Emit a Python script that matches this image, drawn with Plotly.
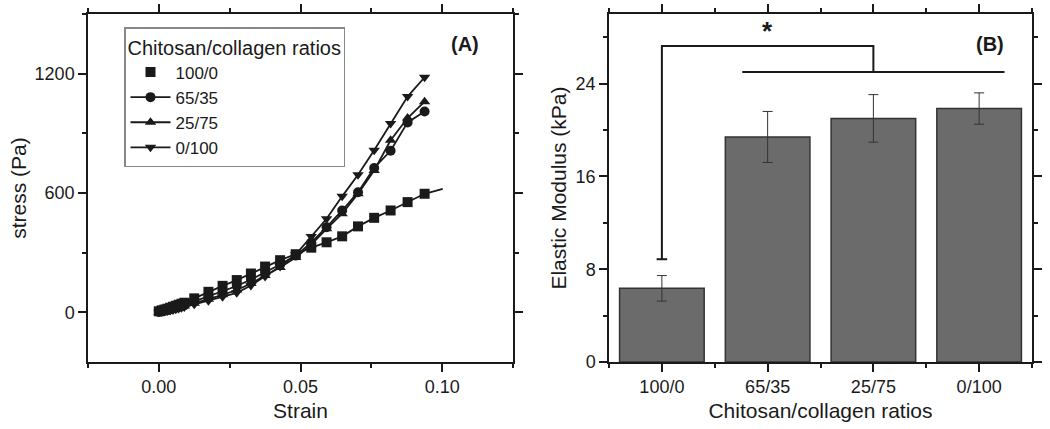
import plotly.graph_objects as go

# ---- panel A: stress-strain curves ----
strain = [0.0, 0.001, 0.002, 0.003, 0.004, 0.005, 0.006, 0.007, 0.008, 0.009,
          0.0125, 0.0175, 0.0225, 0.0275, 0.0325, 0.0375, 0.0428, 0.0483, 0.0538,
          0.0592, 0.0647, 0.0703, 0.076, 0.0818, 0.0878, 0.0938]
stress_100_0 = [5, 10, 14, 18, 23, 28, 33, 38, 43, 48,
                70, 103, 133, 162, 195, 230, 262, 292, 325,
                352, 382, 432, 475, 512, 554, 596]
stress_65_35 = [2, 5, 8, 11, 15, 19, 23, 27, 31, 36,
                55, 80, 105, 132, 165, 200, 240, 285, 350,
                428, 512, 604, 726, 812, 955, 1010]
stress_25_75 = [0, 3, 6, 9, 12, 15, 19, 23, 27, 31,
                45, 65, 88, 112, 145, 185, 225, 275, 340,
                420, 496, 596, 713, 865, 977, 1059]
stress_0_100 = [0, 2, 4, 6, 9, 12, 15, 19, 23, 27,
                40, 58, 78, 98, 135, 180, 230, 290, 381,
                470, 583, 692, 815, 949, 1085, 1182]
# line through the 100/0 points runs on past the last marker
fit_end_strain = 0.1002
fit_end_stress = 621

# ---- panel B: elastic modulus ----
ratios = ["100/0", "65/35", "25/75", "0/100"]
modulus = [6.35, 19.4, 21.0, 21.85]
modulus_err = [1.1, 2.2, 2.05, 1.35]
sig_low = 8.86
sig_high = 27.25
sig_group = 25.0

FONT = "Liberation Sans, Arial, sans-serif"
INK = "#1a1a1a"

fig = go.Figure()

fig.add_trace(go.Scatter(
    x=strain + [fit_end_strain], y=stress_100_0 + [fit_end_stress], mode="lines",
    line=dict(color=INK, width=1.8), showlegend=False, xaxis="x", yaxis="y"))
series = [("100/0", stress_100_0, "square", "markers"),
          ("65/35", stress_65_35, "circle", "lines+markers"),
          ("25/75", stress_25_75, "triangle-up", "lines+markers"),
          ("0/100", stress_0_100, "triangle-down", "lines+markers")]
for name, ys, sym, mode in series:
    fig.add_trace(go.Scatter(
        x=strain, y=ys, mode=mode, name=name,
        line=dict(color=INK, width=1.8),
        marker=dict(symbol=sym, size=10, color=INK),
        xaxis="x", yaxis="y"))

idx = list(range(len(ratios)))
fig.add_trace(go.Bar(
    x=idx, y=modulus, width=0.8, showlegend=False,
    marker=dict(color="#6b6b6b", line=dict(color="#333333", width=1.5)),
    error_y=dict(type="data", array=modulus_err, color="#333333", thickness=1, width=5),
    xaxis="x2", yaxis="y2"))

# significance bracket
fig.add_trace(go.Scatter(
    x=[idx[0], idx[0], idx[2], idx[2]], y=[sig_low, sig_high, sig_high, sig_group],
    mode="lines", line=dict(color=INK, width=2), showlegend=False,
    xaxis="x2", yaxis="y2"))
fig.add_trace(go.Scatter(
    x=[idx[0] - 0.05, idx[0] + 0.05], y=[sig_low, sig_low],
    mode="lines", line=dict(color=INK, width=2), showlegend=False,
    xaxis="x2", yaxis="y2"))
fig.add_trace(go.Scatter(
    x=[idx[1] - 0.24, idx[3] + 0.24], y=[sig_group, sig_group],
    mode="lines", line=dict(color=INK, width=2), showlegend=False,
    xaxis="x2", yaxis="y2"))

axis_common = dict(
    showline=True, linecolor=INK, linewidth=1.5, mirror="allticks",
    ticks="outside", ticklen=8, tickwidth=1.5, tickcolor=INK,
    showgrid=False, zeroline=False,
    tickfont=dict(family=FONT, size=18, color=INK),
)
minor_common = dict(ticks="outside", ticklen=4, tickwidth=1.5, tickcolor=INK, showgrid=False)
title_font = dict(family=FONT, size=21, color=INK)

fig.update_layout(
    width=1050, height=429,
    margin=dict(l=0, r=0, t=14, b=67),
    paper_bgcolor="white", plot_bgcolor="white",
    font=dict(family=FONT, color=INK),
    xaxis=dict(axis_common, domain=[88 / 1050, 513 / 1050], range=[-0.025, 0.125],
               tick0=0, dtick=0.05, tickformat=".2f",
               minor=dict(minor_common, dtick=0.025),
               title=dict(text="Strain", font=title_font, standoff=7)),
    yaxis=dict(axis_common, range=[-250, 1500], tick0=0, dtick=600, tickformat="d",
               minor=dict(minor_common, dtick=300),
               title=dict(text="stress (Pa)", font=title_font, standoff=2)),
    xaxis2=dict(axis_common, domain=[609 / 1050, 1032 / 1050], range=[-0.5, 3.5],
                tickvals=idx, ticktext=ratios, anchor="y2",
                minor=dict(minor_common, tickvals=[-0.5, 0.5, 1.5, 2.5, 3.5]),
                title=dict(text="Chitosan/collagen ratios", font=title_font, standoff=7)),
    yaxis2=dict(axis_common, range=[0, 30], tick0=0, dtick=8, anchor="x2",
                minor=dict(minor_common, dtick=4),
                title=dict(text="Elastic Modulus (kPa)", font=title_font, standoff=3)),
    legend=dict(
        x=124 / 1050, y=(362 - 27) / 348, xanchor="left", yanchor="top",
        bgcolor="white", bordercolor="#888888", borderwidth=1.5,
        font=dict(family=FONT, size=17, color=INK),
        title=dict(text="Chitosan/collagen ratios", font=dict(family=FONT, size=20, color=INK)),
        tracegroupgap=0, itemwidth=40,
    ),
    annotations=[
        dict(x=0.108, y=1350, xref="x", yref="y", text="<b>(A)</b>", showarrow=False,
             font=dict(family=FONT, size=20, color=INK)),
        dict(x=3.1, y=27.4, xref="x2", yref="y2", text="<b>(B)</b>", showarrow=False,
             font=dict(family=FONT, size=20, color=INK)),
        dict(x=1.0, y=28.5, xref="x2", yref="y2", text="<b>*</b>", showarrow=False,
             font=dict(family=FONT, size=26, color=INK)),
    ],
)

fig.write_html("out.html", config={"displayModeBar": False},
               post_script="document.body.style.margin='0';")
